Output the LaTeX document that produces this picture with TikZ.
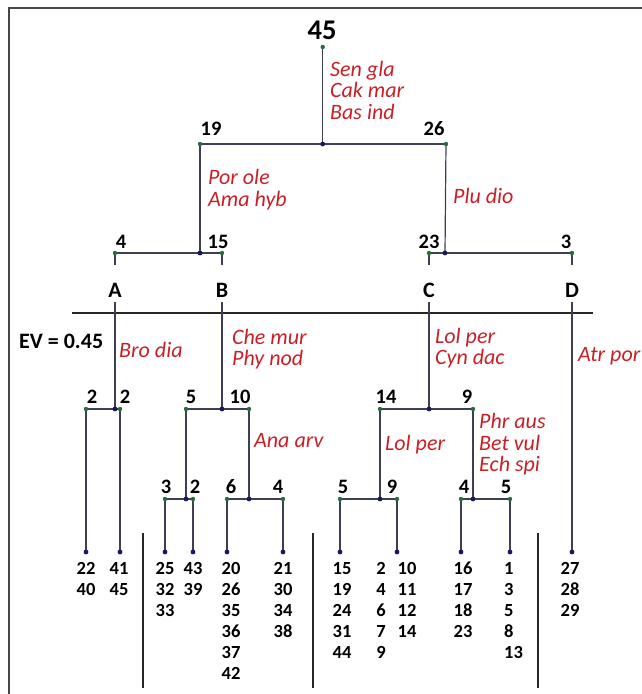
\documentclass[tikz,border=0pt]{standalone}
\usepackage{fontspec}
\setmainfont{Carlito}
\definecolor{linec}{RGB}{62,62,84}
\definecolor{gdotc}{RGB}{40,110,60}
\definecolor{ndotc}{RGB}{25,25,95}
\definecolor{redc}{RGB}{200,32,38}
\definecolor{framec}{RGB}{70,70,70}
\begin{document}
\begin{tikzpicture}[x=1pt,y=-1pt,
  ln/.style={draw=linec,line width=1.2pt},
  gdot/.style={circle,fill=gdotc,inner sep=0pt,minimum size=4.4pt},
  ndot/.style={circle,fill=ndotc,inner sep=0pt,minimum size=4.8pt},
  num/.style={inner sep=0pt,font=\bfseries\fontsize{20.5}{20.5}\selectfont},
  big/.style={inner sep=0pt,font=\bfseries\fontsize{28.5}{28.5}\selectfont},
  grp/.style={inner sep=0pt,font=\bfseries\fontsize{22}{22}\selectfont},
  sp/.style={inner sep=0pt,anchor=base west,text=redc,font=\itshape\fontsize{22}{22}\selectfont},
  leaf/.style={inner sep=0pt,anchor=north,align=center,font=\bfseries\fontsize{18.5}{21}\selectfont},
  leafw/.style={inner sep=0pt,anchor=north west,align=left,font=\bfseries\fontsize{18.5}{21}\selectfont}]
\useasboundingbox (0,0) rectangle (642,694);
% frame
\coordinate (fb) at (9,694); \coordinate (fc) at (9,8); \coordinate (fr) at (642,8);
\draw[draw=framec,line width=1.5pt] (fb) -- (fc) -- (fr);
% coordinates
\coordinate (top) at (322.7,47);  \coordinate (j0) at (322.7,144);
\coordinate (p19) at (200,144);   \coordinate (p26) at (446,144);
\coordinate (p4) at (115,253);    \coordinate (j19) at (200,253); \coordinate (p15) at (222,253);
\coordinate (p23) at (429,253);   \coordinate (j26) at (445,253); \coordinate (p3) at (572,253);
\coordinate (s4) at (115,265); \coordinate (s15) at (222,265); \coordinate (s23) at (429,265); \coordinate (s3) at (572,265);
\coordinate (tA) at (115,302); \coordinate (tB) at (222,302); \coordinate (tC) at (429,302); \coordinate (tD) at (572,302);
\coordinate (jA) at (115,409); \coordinate (a1) at (86,409); \coordinate (a2) at (120,409);
\coordinate (jB) at (222,409); \coordinate (b5) at (186,409); \coordinate (b10) at (249,409);
\coordinate (jC) at (429,409); \coordinate (c14) at (380,409); \coordinate (c9) at (473,409);
\coordinate (jB5) at (186,499); \coordinate (b3) at (165,499); \coordinate (b2) at (193,499);
\coordinate (jB10) at (249,499); \coordinate (b6) at (227,499); \coordinate (b4) at (283,499);
\coordinate (jC14) at (380,499); \coordinate (c5) at (340,499); \coordinate (c9b) at (397,499);
\coordinate (jC9) at (473,499); \coordinate (c4) at (461,499); \coordinate (c5b) at (510,499);
\foreach \n/\x in {la1/86,la2/120,lb3/165,lb2/193,lb6/227,lb4/283,lc5/340,lc9/397,lc4/461,lc5b/510,ld/572}
  \coordinate (\n) at (\x,552);
% EV line
\coordinate (ev1) at (72,313); \coordinate (ev2) at (593,313);
\draw[draw=black!85,line width=1.3pt] (ev1) -- (ev2);
% tree lines
\draw[ln] (top) -- (j0);
\draw[ln] (p19) -- (p26);
\draw[ln] (p19) -- (j19);
\draw[ln] (p26) -- (j26);
\draw[ln] (p4) -- (p15);
\draw[ln] (p23) -- (p3);
\draw[ln] (p4) -- (s4); \draw[ln] (p15) -- (s15); \draw[ln] (p23) -- (s23); \draw[ln] (p3) -- (s3);
\draw[ln] (tA) -- (jA); \draw[ln] (tB) -- (jB); \draw[ln] (tC) -- (jC); \draw[ln] (tD) -- (ld);
\draw[ln] (a1) -- (a2); \draw[ln] (b5) -- (b10); \draw[ln] (c14) -- (c9);
\draw[ln] (a1) -- (la1); \draw[ln] (a2) -- (la2);
\draw[ln] (b5) -- (jB5); \draw[ln] (b10) -- (jB10);
\draw[ln] (c14) -- (jC14); \draw[ln] (c9) -- (jC9);
\draw[ln] (b3) -- (b2); \draw[ln] (b6) -- (b4); \draw[ln] (c5) -- (c9b); \draw[ln] (c4) -- (c5b);
\draw[ln] (b3) -- (lb3); \draw[ln] (b2) -- (lb2); \draw[ln] (b6) -- (lb6); \draw[ln] (b4) -- (lb4);
\draw[ln] (c5) -- (lc5); \draw[ln] (c9b) -- (lc9); \draw[ln] (c4) -- (lc4); \draw[ln] (c5b) -- (lc5b);
% separators
\coordinate (v1t) at (143,533); \coordinate (v1b) at (143,688);
\coordinate (v2t) at (313,533); \coordinate (v2b) at (313,688);
\coordinate (v3t) at (538,533); \coordinate (v3b) at (538,688);
\draw[draw=black!85,line width=1.2pt] (v1t) -- (v1b);
\draw[draw=black!85,line width=1.2pt] (v2t) -- (v2b);
\draw[draw=black!85,line width=1.2pt] (v3t) -- (v3b);
% dots
\foreach \c in {top,p19,p26,p4,p15,p23,p3,a1,a2,b5,b10,c14,c9,b3,b2,b6,b4,c5,c9b,c4,c5b}
  \node[gdot] (g-\c) at (\c) {};
\foreach \c in {j0,j19,j26,jA,jB,jC,jB5,jB10,jC14,jC9,la1,la2,lb3,lb2,lb6,lb4,lc5,lc9,lc4,lc5b,ld}
  \node[ndot] (n-\c) at (\c) {};
% labels
\node[big] (t45) at (322,30) {45};
\node[num] (t19) at (211,129) {19};
\node[num] (t26) at (434,129) {26};
\node[num] (t4) at (121,242) {4};
\node[num] (t15) at (218,242) {15};
\node[num] (t23) at (429,242) {23};
\node[num] (t3) at (566,242) {3};
\node[grp] (gA) at (115,290) {A};
\node[grp] (gB) at (222,290) {B};
\node[grp] (gC) at (429,290) {C};
\node[grp] (gD) at (572,290) {D};
\node[grp,anchor=base west] (ev) at (19,348) {EV = 0.45};
\node[num] (u2a) at (92,397) {2};
\node[num] (u2b) at (125,397) {2};
\node[num] (u5) at (191,397) {5};
\node[num] (u10) at (240,397) {10};
\node[num] (u14) at (386,397) {14};
\node[num] (u9) at (467,397) {9};
\node[num] (w3) at (166,487) {3};
\node[num] (w2) at (195,487) {2};
\node[num] (w6) at (231,487) {6};
\node[num] (w4) at (278,487) {4};
\node[num] (w5) at (343,487) {5};
\node[num] (w9) at (392,487) {9};
\node[num] (w4b) at (464,487) {4};
\node[num] (w5b) at (506,487) {5};
% species
\node[sp] (s1) at (330,76) {Sen gla};
\node[sp] (s2) at (330,97.5) {Cak mar};
\node[sp] (s3t) at (330,119) {Bas ind};
\node[sp] (s4t) at (208,184.5) {Por ole};
\node[sp] (s5) at (208,206.5) {Ama hyb};
\node[sp] (s6) at (453,203.5) {Plu dio};
\node[sp] (s7) at (119,357.5) {Bro dia};
\node[sp] (s8) at (232,344.5) {Che mur};
\node[sp] (s9) at (232,365.5) {Phy nod};
\node[sp] (s10) at (435,343.5) {Lol per};
\node[sp] (s11) at (435,364.5) {Cyn dac};
\node[sp] (s12) at (578,361.5) {Atr por};
\node[sp] (s13) at (254,447.5) {Ana arv};
\node[sp] (s14) at (385,450.5) {Lol per};
\node[sp] (s15t) at (479,428.5) {Phr aus};
\node[sp] (s16) at (479,450) {Bet vul};
\node[sp] (s17) at (479,471.5) {Ech spi};
% leaves
\node[leaf] (L1) at (86,562) {22\\40};
\node[leaf] (L2) at (119,562) {41\\45};
\node[leaf] (L3) at (165,562) {25\\32\\33};
\node[leaf] (L4) at (193,562) {43\\39};
\node[leaf] (L5) at (231,562) {20\\26\\35\\36\\37\\42};
\node[leaf] (L6) at (283,562) {21\\30\\34\\38};
\node[leaf] (L7) at (342,562) {15\\19\\24\\31\\44};
\node[leaf] (L8) at (381,562) {2\\4\\6\\7\\9};
\node[leaf] (L9) at (407,562) {10\\11\\12\\14};
\node[leaf] (L10) at (463,562) {16\\17\\18\\23};
\node[leafw] (L11) at (504,562) {1\\3\\5\\8\\13};
\node[leaf] (L12) at (570,562) {27\\28\\29};
\end{tikzpicture}
\end{document}
